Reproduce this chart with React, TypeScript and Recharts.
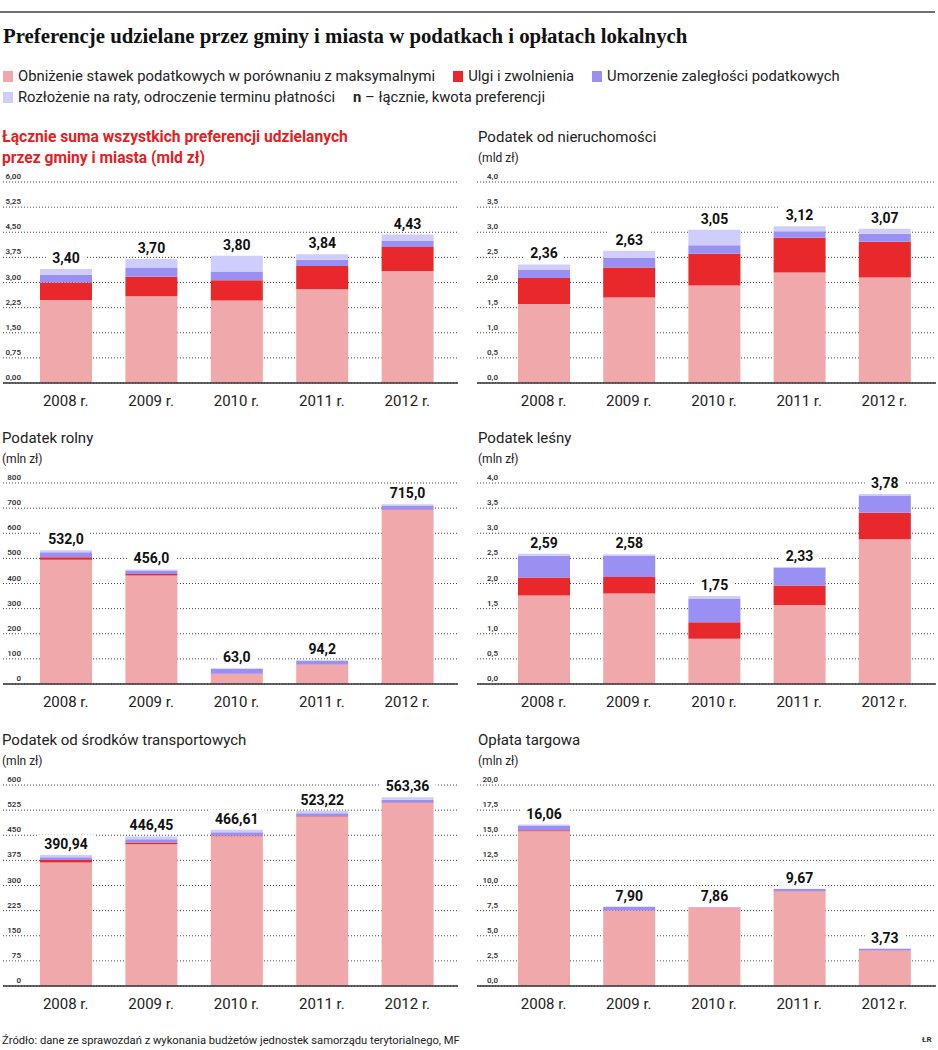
import React from "react";
import { BarChart, Bar, XAxis, YAxis, CartesianGrid, LabelList } from "recharts";

const years = ["2008 r.", "2009 r.", "2010 r.", "2011 r.", "2012 r."];

// Łącznie (mld zł)
const sumObnizenie = [2.48, 2.59, 2.46, 2.8, 3.34];
const sumUlgi = [0.52, 0.58, 0.61, 0.69, 0.72];
const sumUmorzenie = [0.23, 0.28, 0.26, 0.19, 0.18];
const sumRaty = [0.17, 0.25, 0.47, 0.16, 0.19];
const sumTotal = [3.4, 3.7, 3.8, 3.84, 4.43];
const sumTicks = [0, 0.75, 1.5, 2.25, 3, 3.75, 4.5, 5.25, 6];

// Podatek od nieruchomości (mld zł)
const nierObnizenie = [1.57, 1.7, 1.94, 2.2, 2.1];
const nierUlgi = [0.52, 0.6, 0.63, 0.69, 0.71];
const nierUmorzenie = [0.17, 0.19, 0.17, 0.13, 0.16];
const nierRaty = [0.1, 0.14, 0.31, 0.1, 0.1];
const nierTotal = [2.36, 2.63, 3.05, 3.12, 3.07];
const nierTicks = [0, 0.5, 1, 1.5, 2, 2.5, 3, 3.5, 4];

// Podatek rolny (mln zł)
const rolObnizenie = [495, 432, 40, 77, 693];
const rolUlgi = [9, 6, 1, 1, 2];
const rolUmorzenie = [20, 14, 20, 14, 15];
const rolRaty = [8, 4, 2, 2.2, 5];
const rolTotal = [532.0, 456.0, 63.0, 94.2, 715.0];
const rolTicks = [0, 100, 200, 300, 400, 500, 600, 700, 800];

// Podatek leśny (mln zł)
const lesObnizenie = [1.76, 1.8, 0.9, 1.57, 2.88];
const lesUlgi = [0.36, 0.33, 0.33, 0.39, 0.53];
const lesUmorzenie = [0.43, 0.42, 0.47, 0.35, 0.34];
const lesRaty = [0.04, 0.03, 0.05, 0.02, 0.03];
const lesTotal = [2.59, 2.58, 1.75, 2.33, 3.78];
const lesTicks = [0, 0.5, 1, 1.5, 2, 2.5, 3, 3.5, 4];

// Podatek od środków transportowych (mln zł)
const trObnizenie = [369, 423, 447, 505, 546];
const trUlgi = [7, 5, 2, 2, 2];
const trUmorzenie = [8, 10, 10, 9, 8];
const trRaty = [6.94, 8.45, 7.61, 7.22, 7.36];
const trTotal = [390.94, 446.45, 466.61, 523.22, 563.36];
const trTicks = [0, 75, 150, 225, 300, 375, 450, 525, 600];

// Opłata targowa (mln zł)
const tarObnizenie = [15.4, 7.5, 7.78, 9.4, 3.5];
const tarUlgi = [0.1, 0.02, 0.02, 0.02, 0.02];
const tarUmorzenie = [0.48, 0.33, 0.04, 0.22, 0.18];
const tarRaty = [0.08, 0.05, 0.02, 0.03, 0.03];
const tarTotal = [16.06, 7.9, 7.86, 9.67, 3.73];
const tarTicks = [0, 2.5, 5, 7.5, 10, 12.5, 15, 17.5, 20];

const PINK = "#f0a8ab";
const RED = "#e8282a";
const BLUE = "#9a90f3";
const LIGHT = "#cfcdfb";
const SANS = "Roboto, 'Open Sans', sans-serif";

const fmt = (v: number, d: number) => v.toFixed(d).replace(".", ",");

type PanelProps = {
  col: 0 | 1;
  plotTop: number;
  obn: number[];
  ulgi: number[];
  umorz: number[];
  raty: number[];
  total: number[];
  ticks: number[];
  tickDec: number;
  labelDec: number;
};

const Panel: React.FC<PanelProps> = ({ col, plotTop, obn, ulgi, umorz, raty, total, ticks, tickDec, labelDec }) => {
  const data = years.map((y, i) => ({
    year: y,
    obn: obn[i],
    ulgi: ulgi[i],
    umorz: umorz[i],
    raty: raty[i],
    total: total[i],
  }));
  const divLeft = col === 0 ? 0 : 470;
  const width = col === 0 ? 470 : 468;
  const plotLeft = col === 0 ? 3 : 477;
  const plotRight = col === 0 ? 458 : 936;
  const yw = plotLeft - divLeft;
  const mRight = divLeft + width - plotRight;
  const topM = 12;
  const plotH = 201;
  const pad = col === 0 ? { left: 20, right: 8 } : { left: 24, right: 9 };
  const tickEnd = col === 0 ? 18 : 21;

  const yTick = (p: any) => (
    <text
      x={yw + tickEnd}
      y={p.y - 3}
      textAnchor="end"
      fontSize={8}
      fontWeight={600}
      fill="#333"
      fontFamily={SANS}
    >
      {fmt(Number(p.payload.value), tickDec)}
    </text>
  );

  const xTick = (p: any) => (
    <text x={p.x} y={p.y + 21} textAnchor="middle" fontSize={15} fill="#222" fontFamily={SANS}>
      {p.payload.value}
    </text>
  );

  const valueLabel = (p: any) => {
    const s = fmt(Number(p.value), labelDec);
    const cx = p.x + p.width / 2;
    const w = s.length * 8 + 8;
    return (
      <g>
        <rect x={cx - w / 2} y={p.y - 20} width={w} height={17} fill="#fff" />
        <text x={cx} y={p.y - 6} textAnchor="middle" fontSize={14} fontWeight={700} fill="#111" fontFamily={SANS}>
          {s}
        </text>
      </g>
    );
  };

  return (
    <div style={{ position: "absolute", left: divLeft, top: plotTop - topM }}>
      <BarChart
        width={width}
        height={topM + plotH + 30}
        data={data}
        margin={{ top: topM, right: mRight, bottom: 0, left: 0 }}
      >
        <CartesianGrid vertical={false} stroke="#444" strokeDasharray="1 2" />
        <XAxis
          dataKey="year"
          height={30}
          padding={pad}
          tickLine={false}
          tickSize={0}
          tick={xTick}
          axisLine={{ stroke: "#333", strokeWidth: 1.5 }}
        />
        <YAxis
          width={yw}
          domain={[ticks[0], ticks[ticks.length - 1]]}
          ticks={ticks}
          axisLine={false}
          tickLine={false}
          tickSize={0}
          tick={yTick}
          interval={0}
        />
        <Bar dataKey="obn" stackId="a" fill={PINK} barSize={52} isAnimationActive={false} />
        <Bar dataKey="ulgi" stackId="a" fill={RED} barSize={52} isAnimationActive={false} />
        <Bar dataKey="umorz" stackId="a" fill={BLUE} barSize={52} isAnimationActive={false} />
        <Bar dataKey="raty" stackId="a" fill={LIGHT} barSize={52} isAnimationActive={false}>
          <LabelList dataKey="total" content={valueLabel} />
        </Bar>
      </BarChart>
    </div>
  );
};

const Title: React.FC<{ x: number; y: number; text: string; sub: string; color?: string; bold?: boolean }> = ({
  x,
  y,
  text,
  sub,
  color,
  bold,
}) => (
  <>
    <div
      style={{
        position: "absolute",
        left: x,
        top: y,
        fontFamily: SANS,
        fontSize: bold ? 15.6 : 15,
        fontWeight: bold ? 700 : 400,
        color: color || "#222",
        lineHeight: "20px",
        whiteSpace: "nowrap",
      }}
    >
      {text}
    </div>
    <div
      style={{
        position: "absolute",
        left: x,
        top: y + 21,
        fontFamily: SANS,
        fontSize: bold ? 15.6 : 12,
        fontWeight: bold ? 700 : 400,
        color: color || "#222",
        lineHeight: "20px",
        whiteSpace: "nowrap",
      }}
    >
      {sub}
    </div>
  </>
);

const Swatch: React.FC<{ color: string }> = ({ color }) => (
  <span style={{ display: "inline-block", width: 10, height: 11, background: color, marginRight: 5, verticalAlign: -1 }} />
);

export default function App() {
  const legendRow: React.CSSProperties = {
    position: "absolute",
    left: 3,
    fontFamily: SANS,
    fontSize: 14.8,
    color: "#222",
    whiteSpace: "nowrap",
    lineHeight: "18px",
  };
  return (
    <div style={{ position: "absolute", left: 0, top: 0, width: 938, height: 1050, background: "#fff", overflow: "hidden" }}>
      <div style={{ position: "absolute", left: 0, top: 11, width: 935, height: 2, background: "#707070" }} />
      <div
        style={{
          position: "absolute",
          left: 3,
          top: 24,
          fontFamily: "'Liberation Serif', serif",
          fontWeight: 700,
          fontSize: 20.8,
          color: "#111",
          whiteSpace: "nowrap",
          lineHeight: "24px",
        }}
      >
        Preferencje udzielane przez gminy i miasta w podatkach i opłatach lokalnych
      </div>
      <div style={{ ...legendRow, top: 67 }}>
        <Swatch color={PINK} />
        Obniżenie stawek podatkowych w porównaniu z maksymalnymi
        <span style={{ marginLeft: 18 }} />
        <Swatch color={RED} />
        Ulgi i zwolnienia
        <span style={{ marginLeft: 18 }} />
        <Swatch color={BLUE} />
        Umorzenie zaległości podatkowych
      </div>
      <div style={{ ...legendRow, top: 88 }}>
        <Swatch color={LIGHT} />
        Rozłożenie na raty, odroczenie terminu płatności
        <span style={{ marginLeft: 18 }} />
        <b>n</b> – łącznie, kwota preferencji
      </div>

      <Title x={2} y={127} text="Łącznie suma wszystkich preferencji udzielanych" sub="przez gminy i miasta (mld zł)" color="#e5211f" bold />
      <Title x={478} y={127} text="Podatek od nieruchomości" sub="(mld zł)" />
      <Title x={2} y={428} text="Podatek rolny" sub="(mln zł)" />
      <Title x={478} y={428} text="Podatek leśny" sub="(mln zł)" />
      <Title x={2} y={730} text="Podatek od środków transportowych" sub="(mln zł)" />
      <Title x={478} y={730} text="Opłata targowa" sub="(mln zł)" />

      <Panel col={0} plotTop={182} obn={sumObnizenie} ulgi={sumUlgi} umorz={sumUmorzenie} raty={sumRaty} total={sumTotal} ticks={sumTicks} tickDec={2} labelDec={2} />
      <Panel col={1} plotTop={182} obn={nierObnizenie} ulgi={nierUlgi} umorz={nierUmorzenie} raty={nierRaty} total={nierTotal} ticks={nierTicks} tickDec={1} labelDec={2} />
      <Panel col={0} plotTop={483} obn={rolObnizenie} ulgi={rolUlgi} umorz={rolUmorzenie} raty={rolRaty} total={rolTotal} ticks={rolTicks} tickDec={0} labelDec={1} />
      <Panel col={1} plotTop={483} obn={lesObnizenie} ulgi={lesUlgi} umorz={lesUmorzenie} raty={lesRaty} total={lesTotal} ticks={lesTicks} tickDec={1} labelDec={2} />
      <Panel col={0} plotTop={785} obn={trObnizenie} ulgi={trUlgi} umorz={trUmorzenie} raty={trRaty} total={trTotal} ticks={trTicks} tickDec={0} labelDec={2} />
      <Panel col={1} plotTop={785} obn={tarObnizenie} ulgi={tarUlgi} umorz={tarUmorzenie} raty={tarRaty} total={tarTotal} ticks={tarTicks} tickDec={1} labelDec={2} />

      <div style={{ position: "absolute", left: 2, top: 1034, fontFamily: SANS, fontSize: 11.2, color: "#222", whiteSpace: "nowrap" }}>
        Źródło: dane ze sprawozdań z wykonania budżetów jednostek samorządu terytorialnego, MF
      </div>
      <div style={{ position: "absolute", left: 922, top: 1035, fontFamily: SANS, fontSize: 8, fontWeight: 700, color: "#333" }}>
        ŁR
      </div>
    </div>
  );
}
